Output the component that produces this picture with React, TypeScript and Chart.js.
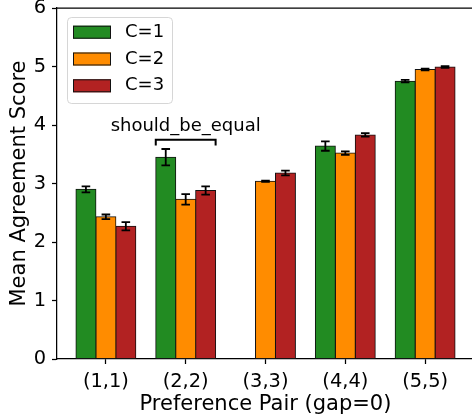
import React, { useEffect, useRef } from 'react';
import { Chart, registerables } from 'chart.js';

Chart.register(...registerables);

const FONT = 'DejaVu Sans';

const categories = ['(1,1)', '(2,2)', '(3,3)', '(4,4)', '(5,5)'];
const seriesNames = ['C=1', 'C=2', 'C=3'];
const seriesColors = ['#228B22', '#FF8C00', '#B22222'];

const c1Values: (number | null)[] = [2.90, 3.45, null, 3.64, 4.75];
const c2Values: (number | null)[] = [2.43, 2.73, 3.04, 3.52, 4.95];
const c3Values: (number | null)[] = [2.27, 2.88, 3.18, 3.83, 4.99];

const c1Errors = [0.05, 0.14, 0, 0.08, 0.02];
const c2Errors = [0.04, 0.09, 0.01, 0.03, 0.015];
const c3Errors = [0.07, 0.07, 0.04, 0.03, 0.015];

const yMin = 0;
const yMax = 6;
const yStep = 1;

const xTitle = 'Preference Pair (gap=0)';
const yTitle = 'Mean Agreement Score';

const annotationText = 'should_be_equal';
const annotationCategory = 1;
const annotationBracketY = 3.75;
const annotationBracketDrop = 3.65;
const annotationTextY = 3.9;

const allValues = [c1Values, c2Values, c3Values];
const allErrors = [c1Errors, c2Errors, c3Errors];

const errorBarPlugin = {
  id: 'errorBars',
  afterDatasetsDraw(chart: any) {
    const ctx = chart.ctx;
    const ys = chart.scales.y;
    ctx.save();
    ctx.strokeStyle = '#000';
    ctx.lineWidth = 1.8;
    allValues.forEach((vals, d) => {
      const meta = chart.getDatasetMeta(d);
      meta.data.forEach((el: any, i: number) => {
        const v = vals[i];
        if (v === null || v === undefined) return;
        const e = allErrors[d][i];
        const yTop = ys.getPixelForValue(v + e);
        const yBot = ys.getPixelForValue(v - e);
        const x = el.x;
        const cap = 4.3;
        ctx.beginPath();
        ctx.moveTo(x, yTop);
        ctx.lineTo(x, yBot);
        ctx.moveTo(x - cap, yTop);
        ctx.lineTo(x + cap, yTop);
        ctx.moveTo(x - cap, yBot);
        ctx.lineTo(x + cap, yBot);
        ctx.stroke();
      });
    });
    ctx.restore();
  },
};

const annotationPlugin = {
  id: 'bracketAnnotation',
  afterDatasetsDraw(chart: any) {
    const ctx = chart.ctx;
    const xs = chart.scales.x;
    const ys = chart.scales.y;
    const x1 = xs.getPixelForValue(annotationCategory - 0.375);
    const x2 = xs.getPixelForValue(annotationCategory + 0.375);
    const y = ys.getPixelForValue(annotationBracketY);
    const yd = ys.getPixelForValue(annotationBracketDrop);
    ctx.save();
    ctx.strokeStyle = '#000';
    ctx.lineWidth = 2;
    ctx.beginPath();
    ctx.moveTo(x1, yd);
    ctx.lineTo(x1, y);
    ctx.lineTo(x2, y);
    ctx.lineTo(x2, yd);
    ctx.stroke();
    ctx.fillStyle = '#000';
    ctx.font = `18px "${FONT}"`;
    ctx.textAlign = 'center';
    ctx.textBaseline = 'alphabetic';
    ctx.fillText(annotationText, xs.getPixelForValue(annotationCategory), ys.getPixelForValue(annotationTextY));
    ctx.restore();
  },
};

const frameLegendPlugin = {
  id: 'frameLegend',
  afterDraw(chart: any) {
    const ctx = chart.ctx;
    const a = chart.chartArea;
    ctx.save();
    ctx.strokeStyle = '#000';
    ctx.lineWidth = 1.25;
    ctx.beginPath();
    ctx.moveTo(a.left, a.top);
    ctx.lineTo(a.right, a.top);
    ctx.lineTo(a.right, a.bottom);
    ctx.stroke();

    const bx = a.left + 10;
    const by = a.top + 9;
    const bw = 105;
    const bh = 86;
    ctx.beginPath();
    ctx.roundRect(bx + 0.5, by + 0.5, bw, bh, 4);
    ctx.fillStyle = 'rgba(255,255,255,0.8)';
    ctx.fill();
    ctx.strokeStyle = 'rgba(204,204,204,0.8)';
    ctx.lineWidth = 1;
    ctx.stroke();

    ctx.font = `18px "${FONT}"`;
    ctx.textAlign = 'left';
    ctx.textBaseline = 'middle';
    seriesNames.forEach((name, k) => {
      const cy = by + 15.2 + k * 26.8;
      ctx.fillStyle = seriesColors[k];
      ctx.fillRect(bx + 6, cy - 6.5, 38, 13);
      ctx.strokeStyle = '#111';
      ctx.lineWidth = 1;
      ctx.strokeRect(bx + 6.5, cy - 6, 37, 12);
      ctx.fillStyle = '#000';
      ctx.fillText(name, bx + 58, cy);
    });
    ctx.restore();
  },
};

export default function App() {
  const canvasRef = useRef<HTMLCanvasElement | null>(null);

  useEffect(() => {
    if (!canvasRef.current) return;
    Chart.defaults.font.family = FONT;
    const datasets = allValues.map((vals, d) => ({
      label: seriesNames[d],
      data: vals.map((v, i) => ({ x: i, y: v })),
      backgroundColor: seriesColors[d],
      borderColor: '#111',
      borderWidth: 1,
      borderSkipped: false,
      inflateAmount: 0.5,
      categoryPercentage: 0.75,
      barPercentage: 1.0,
    }));

    const chart = new Chart(canvasRef.current, {
      type: 'bar',
      data: { datasets: datasets as any },
      options: {
        animation: false,
        responsive: false,
        devicePixelRatio: 1,
        layout: { padding: { left: 0, right: 6, top: 8, bottom: 0 } },
        plugins: {
          legend: { display: false },
          tooltip: { enabled: false },
        },
        scales: {
          x: {
            type: 'linear',
            min: -0.6125,
            max: 4.6125,
            offset: false,
            afterBuildTicks: (s: any) => {
              s.ticks = categories.map((_, i) => ({ value: i }));
            },
            afterFit: (s: any) => {
              s.height = 60;
              s.paddingLeft = 0;
              s.paddingRight = 0;
            },
            ticks: {
              callback: (v: any) => categories[v] ?? '',
              font: { family: FONT, size: 19.4 },
              color: '#000',
              padding: 6,
              maxRotation: 0,
              autoSkip: false,
            },
            grid: {
              display: true,
              offset: false,
              drawOnChartArea: false,
              drawTicks: true,
              tickLength: 5,
              tickWidth: 1.25,
              tickColor: '#000',
            },
            border: { display: true, color: '#000', width: 1.25 },
            title: {
              display: true,
              text: xTitle,
              font: { family: FONT, size: 21 },
              color: '#000',
              padding: { top: 0, bottom: 2 },
            },
          },
          y: {
            min: yMin,
            max: yMax,
            afterFit: (s: any) => {
              s.width = 57;
              s.paddingTop = 0;
              s.paddingBottom = 0;
            },
            ticks: {
              stepSize: yStep,
              font: { family: FONT, size: 19.4 },
              color: '#000',
              padding: 6,
            },
            grid: {
              display: true,
              drawOnChartArea: false,
              drawTicks: true,
              tickLength: 5,
              tickWidth: 1.25,
              tickColor: '#000',
            },
            border: { display: true, color: '#000', width: 1.25 },
            title: {
              display: true,
              text: yTitle,
              font: { family: FONT, size: 21 },
              color: '#000',
              padding: { top: 7, bottom: 0 },
            },
          },
        },
      },
      plugins: [errorBarPlugin, annotationPlugin, frameLegendPlugin],
    });
    return () => chart.destroy();
  }, []);

  return (
    <div style={{ position: 'absolute', left: 0, top: 0, width: 472, height: 419, overflow: 'hidden', background: '#fff' }}>
      <canvas ref={canvasRef} width={480} height={419} style={{ display: 'block' }} />
    </div>
  );
}
